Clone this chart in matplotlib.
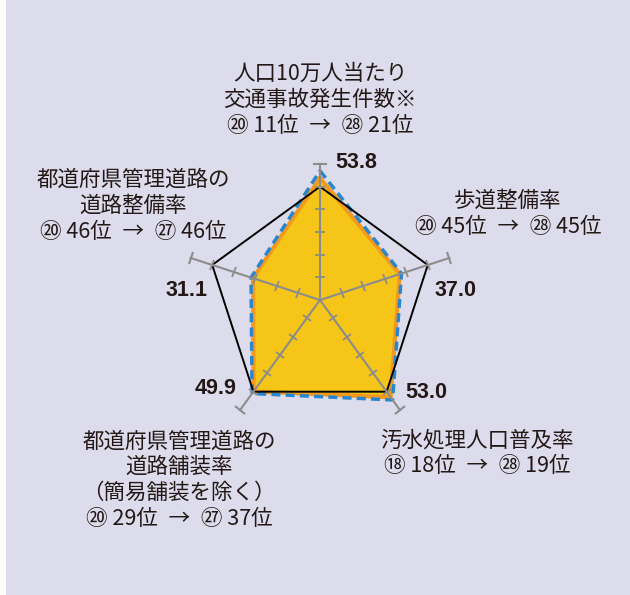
import numpy as np
import matplotlib
matplotlib.use("Agg")
import matplotlib.pyplot as plt
from matplotlib.markers import MarkerStyle
from matplotlib.transforms import Affine2D
from matplotlib.patches import Rectangle

# Data
sp = "\u2002"
categories = [
    f"人口10万人当たり\n交通事故発生件数※\n⑳ 11位{sp}→{sp}㉘ 21位",
    f"歩道整備率\n⑳ 45位{sp}→{sp}㉘ 45位",
    f"汚水処理人口普及率\n⑱ 18位{sp}→{sp}㉘ 19位",
    f"都道府県管理道路の\n道路舗装率\n（簡易舗装を除く）\n⑳ 29位{sp}→{sp}㉗ 37位",
    f"都道府県管理道路の\n道路整備率\n⑳ 46位{sp}→{sp}㉗ 46位",
]
values = [53.8, 37.0, 53.0, 49.9, 31.1]
prev_values = [57.0, 37.8, 54.5, 51.0, 32.0]
average = [50, 50, 50, 50, 50]
value_labels = ["53.8", "37.0", "53.0", "49.9", "31.1"]
scale_ticks = [10, 20, 30, 40, 50]
scale_max = 60

W, H = 630, 595
def fx(x):
    return x / W
def fy(y):
    return 1 - y / H

fig = plt.figure(figsize=(W / 100, H / 100), dpi=100)
fig.patch.set_facecolor("white")
fig.add_artist(Rectangle((fx(6), 0), 1 - fx(6), 1, transform=fig.transFigure,
                         facecolor="#dcdcec", edgecolor="none", zorder=-10))

# polar axes centred on the chart centre (320, 300 px), radius 136 px = 60
cx, cy, rad = 320, 300, 136
ax = fig.add_axes([fx(cx - rad), fy(cy + rad), 2 * rad / W, 2 * rad / H], projection="polar")
ax.set_theta_offset(np.pi / 2)
ax.set_theta_direction(-1)
ax.set_ylim(0, scale_max)
ax.axis("off")

n = len(values)
theta = np.arange(n) * 2 * np.pi / n
th_c = np.append(theta, theta[0])

ax.fill(th_c, np.append(values, values[0]), color="#f5c518", zorder=2, clip_on=False)
ax.plot(th_c, np.append(values, values[0]), color="#f39a1e", lw=3, zorder=3, clip_on=False)
ax.plot(th_c, np.append(prev_values, prev_values[0]), color="#2a86cc", lw=2.5,
        dashes=(2.6, 1.5), zorder=4, clip_on=False)
ax.plot(th_c, np.append(average, average[0]), color="black", lw=1.4, zorder=5, clip_on=False)

gray = "#8c8c8c"
for i, t in enumerate(theta):
    ang = 90 - 72 * i
    tick = MarkerStyle("_", transform=Affine2D().rotate_deg(ang + 90))
    ax.plot([t, t], [0, scale_max], color=gray, lw=1.5, zorder=6, clip_on=False)
    ax.plot([t] * len(scale_ticks), scale_ticks, ls="none", marker=tick, ms=7,
            mew=1.3, color=gray, zorder=6, clip_on=False)
    ax.plot([t], [scale_max], ls="none", marker=tick, ms=9.5, mew=1.5,
            color=gray, zorder=6, clip_on=False)

txt = "#231815"
jp = ["Noto Sans CJK JP", "DejaVu Sans"]

# value labels
value_pos = [(356, 163), (456, 290), (426, 393), (216, 388), (187, 291)]
for s, (x, y) in zip(value_labels, value_pos):
    fig.text(fx(x), fy(y), s, ha="center", va="center", fontsize=15.5,
             family="Liberation Sans", weight="bold", color=txt)

# category labels
cat_pos = [(320, 100), (508, 214), (477, 453), (179, 480), (133, 206)]
for s, (x, y) in zip(categories, cat_pos):
    fig.text(fx(x), fy(y), s, ha="center", va="center", fontsize=15.5,
             family=jp, color=txt, linespacing=1.22, multialignment="center")

fig.savefig("out.png", dpi=100, facecolor=fig.get_facecolor())
